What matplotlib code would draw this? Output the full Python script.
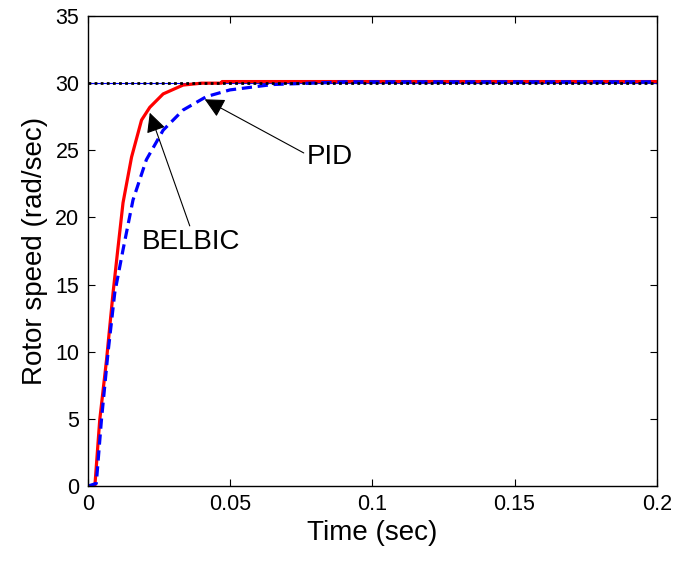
import matplotlib as mpl
mpl.use('Agg')
import matplotlib.pyplot as plt

plt.rcParams['font.family'] = ['Liberation Sans', 'DejaVu Sans']

# BELBIC response (red, solid)
t_belbic = [0, 0.0025, 0.0042, 0.0066, 0.0089, 0.0105, 0.0124, 0.0154, 0.0189,
            0.0218, 0.0265, 0.0335, 0.040, 0.047, 0.0472, 0.2]
v_belbic = [0, 0, 4.9, 9.4, 14.4, 17.5, 21.1, 24.5, 27.25,
            28.2, 29.2, 29.86, 30.0, 30.0, 30.12, 30.12]

# PID response (blue, dashed)
t_pid = [0, 0.003, 0.0048, 0.0071, 0.0095, 0.0124, 0.0159, 0.0206, 0.0265,
         0.0335, 0.0417, 0.05, 0.065, 0.085, 0.09, 0.2]
v_pid = [0, 0.2, 4.9, 9.9, 14.4, 17.6, 21.3, 24.3, 26.5,
         28.0, 29.0, 29.5, 29.9, 30.05, 30.1, 30.1]

# reference speed
t_ref = [0, 0.2]
v_ref = [30, 30]

fig = plt.figure(figsize=(6.75, 5.62), dpi=100)
ax = fig.add_axes([0.130, 0.135, 0.843, 0.8365])

ax.plot(t_ref, v_ref, color='blue', lw=0.8)
ax.plot(t_belbic, v_belbic, color='red', lw=2.3)
ax.plot(t_pid, v_pid, color='blue', lw=2.3, linestyle=(0, (3.2, 1.8)))
ax.plot(t_ref, v_ref, color='black', lw=2.0, linestyle=(0, (1, 1.2)))

ax.set_xlim(0, 0.2)
ax.set_ylim(0, 35)
ax.set_xticks([0, 0.05, 0.1, 0.15, 0.2])
ax.set_xticklabels(['0', '0.05', '0.1', '0.15', '0.2'])
ax.set_yticks(range(0, 36, 5))
ax.tick_params(direction='in', length=5, width=0.8, labelsize=15.5,
               top=True, right=True, pad=6)
for s in ax.spines.values():
    s.set_linewidth(1.0)

ax.set_xlabel('Time (sec)', fontsize=20, labelpad=3)
ax.set_ylabel('Rotor speed (rad/sec)', fontsize=20, labelpad=5)

arrow = dict(arrowstyle='-|>,head_length=0.6,head_width=0.3', lw=0.8,
             color='black', shrinkA=0, shrinkB=0)
ax.annotate('PID', xy=(0.0411, 28.8), xytext=(0.085, 24.5),
            fontsize=20, ha='center', va='center',
            arrowprops=dict(arrow, relpos=(0.0, 0.6)))
ax.annotate('BELBIC', xy=(0.0218, 27.8), xytext=(0.0362, 18.2),
            fontsize=20, ha='center', va='center',
            arrowprops=dict(arrow, relpos=(0.5, 1.0)))

plt.savefig('out.png', dpi=100)
